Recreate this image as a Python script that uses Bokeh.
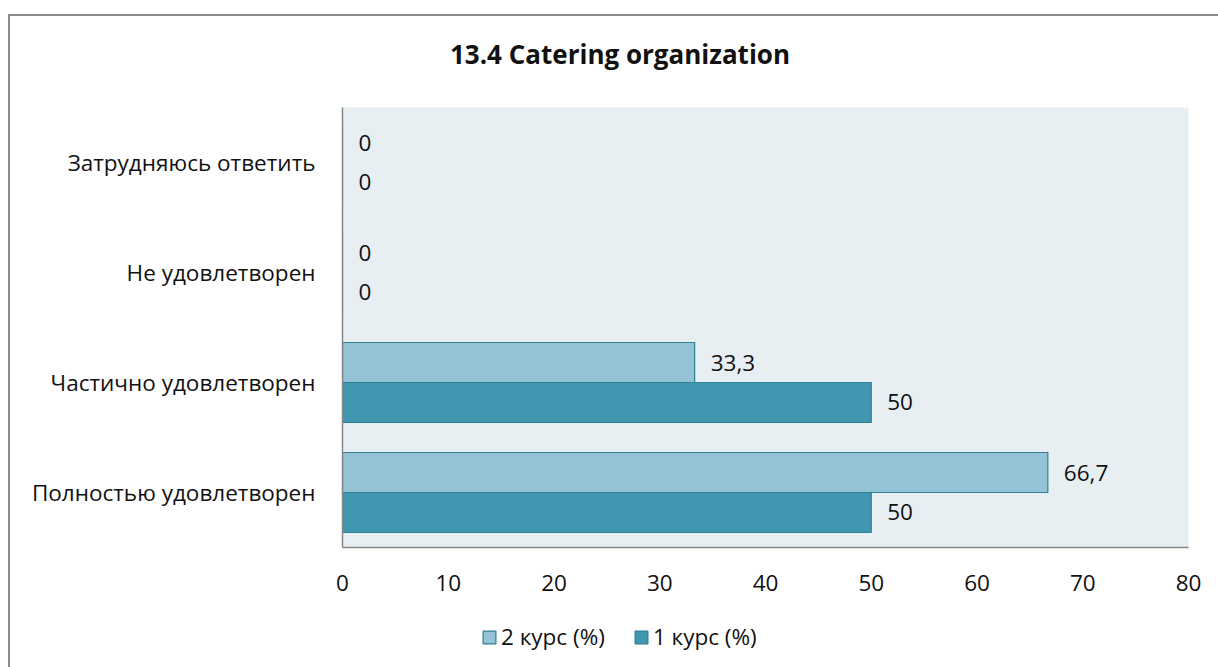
from bokeh.plotting import figure
from bokeh.models import ColumnDataSource, FactorRange, Legend, LegendItem, Div
from bokeh.layouts import column
from bokeh.transform import dodge
from bokeh.core.properties import value
from bokeh.embed import file_html
from bokeh.resources import INLINE

categories = ["Полностью удовлетворен", "Частично удовлетворен", "Не удовлетворен", "Затрудняюсь ответить"]
kurs2 = [66.7, 33.3, 0, 0]
kurs1 = [50, 50, 0, 0]
series_names = ["2 курс (%)", "1 курс (%)"]
x_ticks = [0, 10, 20, 30, 40, 50, 60, 70, 80]
title_text = "13.4 Catering organization"

FONT = "Open Sans"
FS = "22.5px"
TXT = "#111111"
C2 = "#93C3D5"
C1 = "#4197B0"
EDGE = "#2F7F95"

def fmt(v):
    return ("%g" % v).replace(".", ",")

src = ColumnDataSource(dict(
    cat=categories,
    k2=kurs2, k1=kurs1,
    l2=[fmt(v) for v in kurs2], l1=[fmt(v) for v in kurs1],
))

# ---- title
title = Div(text=title_text, width=1218, height=90, margin=0,
            styles={"font-family": FONT, "font-size": "26px", "font-weight": "bold",
                    "color": TXT, "text-align": "center", "padding-top": "36px",
                    "padding-left": "22px", "box-sizing": "border-box"})

# ---- main chart
p = figure(width=1218, height=520, y_range=FactorRange(*categories), x_range=(0, 80),
           output_backend="svg", toolbar_location=None, title=None,
           min_border_left=342, min_border_right=30, min_border_top=17, min_border_bottom=63)
p.background_fill_color = "#E8EFF3"
p.border_fill_color = None
p.outline_line_color = None
p.xgrid.grid_line_color = None
p.ygrid.grid_line_color = None

bh = 0.3636
p.hbar(y=dodge("cat", 0.1818, range=p.y_range), right="k2", left=0, height=bh, source=src,
       fill_color=C2, line_color=EDGE, line_width=1.2)
p.hbar(y=dodge("cat", -0.1818, range=p.y_range), right="k1", left=0, height=bh, source=src,
       fill_color=C1, line_color=EDGE, line_width=1.2)

p.text(x="k2", y=dodge("cat", 0.1818, range=p.y_range), text="l2", source=src,
       x_offset=16, text_align="left", text_baseline="middle",
       text_font=value(FONT), text_font_size=FS, text_color=TXT)
p.text(x="k1", y=dodge("cat", -0.1818, range=p.y_range), text="l1", source=src,
       x_offset=16, text_align="left", text_baseline="middle",
       text_font=value(FONT), text_font_size=FS, text_color=TXT)

p.xaxis.ticker = x_ticks
for ax in (p.xaxis, p.yaxis):
    ax.major_tick_line_color = None
    ax.minor_tick_line_color = None
    ax.axis_line_color = "#868686"
    ax.axis_line_width = 1.5
    ax.major_label_text_font = FONT
    ax.major_label_text_font_size = FS
    ax.major_label_text_color = TXT
p.xaxis.major_label_standoff = 21
p.yaxis.major_label_standoff = 21

# ---- legend strip
lf = figure(width=1218, height=57, output_backend="svg", toolbar_location=None,
            x_axis_location=None, y_axis_location=None, title=None,
            min_border=0, min_border_left=0, min_border_right=0, min_border_top=0, min_border_bottom=0)
lf.outline_line_color = None
lf.background_fill_color = None
lf.border_fill_color = None
lf.xgrid.grid_line_color = None
lf.ygrid.grid_line_color = None
g2 = lf.quad(left="k1", right="k2", bottom="k1", top="k2", source=src,
             fill_color=C2, line_color=EDGE, line_width=1.2, visible=False)
g1 = lf.quad(left="k1", right="k2", bottom="k1", top="k2", source=src,
             fill_color=C1, line_color=EDGE, line_width=1.2, visible=False)
legend = Legend(items=[LegendItem(label=series_names[0], renderers=[g2]),
                       LegendItem(label=series_names[1], renderers=[g1])],
                orientation="horizontal", location=(139, 15),
                label_text_font=FONT, label_text_font_size=FS, label_text_color=TXT,
                glyph_width=16, glyph_height=16, spacing=28, padding=0, margin=0,
                label_standoff=4, border_line_color=None, background_fill_alpha=0,
                inactive_fill_alpha=0)
lf.add_layout(legend, "center")

bg = ("linear-gradient(#8C8C8C,#8C8C8C) 8px 14px / 2px 100% no-repeat, "
      "linear-gradient(#8C8C8C,#8C8C8C) 8px 14px / 100% 2px no-repeat")
layout = column(title, p, lf, spacing=0, styles={"background": bg})

open("out.html", "w").write(file_html(layout, INLINE))
